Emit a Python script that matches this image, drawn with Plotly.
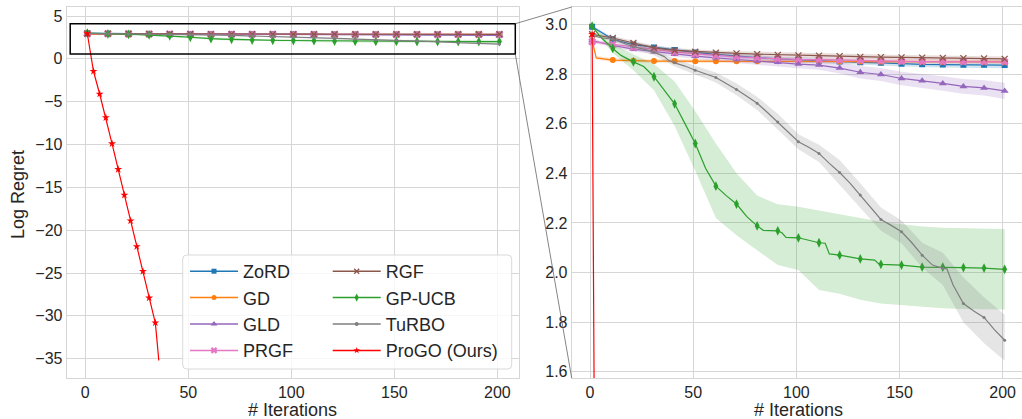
import plotly.graph_objects as go

W, H = 1022, 419

# ---------------- data ----------------
marks = [1, 11, 21, 31, 41, 51, 61, 71, 81, 91, 101, 111, 121, 131, 141, 151, 161, 171, 181, 191, 201]

zord_y = [2.990, 2.940, 2.918, 2.907, 2.897, 2.887, 2.879, 2.871, 2.866, 2.861, 2.857,
          2.853, 2.850, 2.847, 2.845, 2.841, 2.839, 2.838, 2.837, 2.837, 2.836]
zord_sd = [0.006, 0.008, 0.008, 0.008, 0.008, 0.008, 0.008, 0.009, 0.009, 0.009, 0.010,
           0.010, 0.010, 0.011, 0.011, 0.011, 0.012, 0.012, 0.012, 0.012, 0.013]

gd_x = [1, 3, 11, 21, 31, 41, 51, 61, 71, 81, 91, 101, 111, 121, 131, 141, 151, 161, 171, 181, 191, 201]
gd_y = [2.935, 2.865, 2.856, 2.853, 2.852, 2.852, 2.851, 2.851, 2.851, 2.851, 2.851,
        2.851, 2.850, 2.850, 2.850, 2.850, 2.850, 2.850, 2.849, 2.849, 2.849, 2.849]
gd_sd = [0.008, 0.008, 0.007, 0.007, 0.007, 0.007, 0.007, 0.007, 0.007, 0.007, 0.007,
         0.007, 0.007, 0.007, 0.007, 0.007, 0.007, 0.007, 0.007, 0.007, 0.007, 0.007]

gld_y = [2.935, 2.915, 2.900, 2.890, 2.880, 2.872, 2.865, 2.858, 2.852, 2.847, 2.840,
         2.836, 2.824, 2.807, 2.798, 2.782, 2.773, 2.762, 2.750, 2.744, 2.732]
gld_sd = [0.006, 0.008, 0.009, 0.009, 0.010, 0.012, 0.013, 0.014, 0.015, 0.016, 0.017,
          0.019, 0.022, 0.025, 0.026, 0.027, 0.028, 0.029, 0.030, 0.031, 0.033]

prgf_y = [2.930, 2.920, 2.907, 2.898, 2.889, 2.881, 2.874, 2.869, 2.865, 2.861, 2.859,
          2.858, 2.856, 2.854, 2.852, 2.851, 2.850, 2.850, 2.849, 2.849, 2.849]
prgf_sd = [0.006, 0.007, 0.007, 0.007, 0.007, 0.007, 0.007, 0.007, 0.007, 0.007, 0.007,
           0.007, 0.007, 0.007, 0.007, 0.007, 0.007, 0.007, 0.007, 0.007, 0.007]

rgf_y = [2.960, 2.945, 2.925, 2.905, 2.895, 2.890, 2.886, 2.883, 2.880, 2.877, 2.875,
         2.874, 2.872, 2.869, 2.868, 2.867, 2.866, 2.865, 2.864, 2.863, 2.861]
rgf_sd = [0.006, 0.008, 0.009, 0.009, 0.009, 0.009, 0.009, 0.009, 0.010, 0.010, 0.010,
          0.010, 0.010, 0.010, 0.010, 0.010, 0.010, 0.010, 0.010, 0.010, 0.010]

gpucb_x = [1, 5, 11, 15, 21, 26, 31, 36, 41, 46, 51, 56, 61, 66, 71, 76, 81, 84, 91, 93, 95,
           101, 111, 114, 116, 121, 131, 138, 140, 141, 151, 161, 171, 181, 191, 201]
gpucb_y = [2.993, 2.950, 2.903, 2.875, 2.849, 2.830, 2.789, 2.735, 2.680, 2.600, 2.520, 2.420,
           2.348, 2.310, 2.276, 2.225, 2.188, 2.170, 2.168, 2.160, 2.142,
           2.140, 2.120, 2.118, 2.075, 2.070, 2.055, 2.050, 2.035, 2.033, 2.030, 2.022,
           2.022, 2.020, 2.018, 2.013]
gpucb_up = [2.995, 2.920, 2.880, 2.840, 2.770, 2.650, 2.520, 2.400, 2.310, 2.275, 2.265,
            2.250, 2.235, 2.218, 2.205, 2.195, 2.185, 2.180, 2.178, 2.176, 2.175]
gpucb_lo = [2.985, 2.885, 2.815, 2.735, 2.590, 2.410, 2.220, 2.150, 2.090, 2.030, 2.010,
            1.930, 1.915, 1.890, 1.875, 1.870, 1.862, 1.856, 1.853, 1.851, 1.851]

turbo_x = [1, 6, 11, 16, 21, 26, 31, 36, 38, 41, 46, 51, 56, 61, 66, 71, 76, 81, 86, 91, 96,
           101, 106, 111, 116, 121, 126, 131, 136, 141, 146, 151, 156, 161, 166, 171, 173,
           176, 181, 186, 191, 196, 201]
turbo_y = [2.955, 2.945, 2.940, 2.925, 2.910, 2.900, 2.888, 2.870, 2.855, 2.845, 2.832, 2.815,
           2.800, 2.786, 2.762, 2.738, 2.710, 2.682, 2.645, 2.607, 2.565, 2.527, 2.505, 2.480,
           2.440, 2.403, 2.360, 2.312, 2.262, 2.214, 2.190, 2.164, 2.120, 2.070, 2.030, 2.017,
           2.015, 1.950, 1.875, 1.845, 1.819, 1.770, 1.727]
turbo_up = [2.960, 2.948, 2.920, 2.900, 2.860, 2.832, 2.806, 2.762, 2.708, 2.640, 2.557,
            2.515, 2.453, 2.360, 2.262, 2.210, 2.120, 2.080, 1.980, 1.900, 1.830]
turbo_lo = [2.950, 2.932, 2.900, 2.876, 2.830, 2.798, 2.766, 2.714, 2.655, 2.575, 2.497,
            2.445, 2.350, 2.260, 2.168, 2.118, 2.020, 1.950, 1.800, 1.715, 1.645]

progo_x = [1, 4, 7, 10, 13, 16, 19, 22, 25, 28, 31, 34, 34.6, 35.2, 35.7]
progo_y = [2.96, -1.45, -4.1, -6.85, -9.9, -12.9, -15.9, -18.9, -21.9, -24.8, -27.9, -30.8,
           -32.3, -33.7, -35.2]

x_ticks = [0, 50, 100, 150, 200]
left_y_ticks = [5, 0, -5, -10, -15, -20, -25, -30, -35]
right_y_ticks = [1.6, 1.8, 2.0, 2.2, 2.4, 2.6, 2.8, 3.0]

zoom_box_x = [-7.3, 208.7]
zoom_box_y = [0.55, 4.1]

# ---------------- layout geometry (pixels) ----------------
L_X0, L_X1 = 66.7, 519.0
R_X0, R_X1 = 571.7, 1022.0
P_Y0, P_Y1 = 7.0, 378.0          # top, bottom
L_XR = [-9.0, 210.5]
R_XR = [-8.9, 209.4]
L_YR = [-37.25, 6.05]
R_YR = [1.575, 3.07]


def px(xp):
    return xp / W


def py(yp):
    return 1 - yp / H


FONT = "Liberation Sans, Arial, sans-serif"
TXT = "#262626"
GRID = "#d6d6d6"


def band(x, up, lo):
    return list(x) + list(x)[::-1], list(up) + list(lo)[::-1]


def rgba(hexc, a):
    h = hexc.lstrip("#")
    r, g, b = int(h[0:2], 16), int(h[2:4], 16), int(h[4:6], 16)
    return f"rgba({r},{g},{b},{a})"


def pm(y, sd, s):
    return [a + s * b for a, b in zip(y, sd)]


series = [
    dict(name="ZoRD", x=marks, y=zord_y, bx=marks, up=pm(zord_y, zord_sd, 1), lo=pm(zord_y, zord_sd, -1),
         color="#1f77b4", symbol="square", size=6, every=10),
    dict(name="GD", x=gd_x, y=gd_y, bx=gd_x, up=pm(gd_y, gd_sd, 1), lo=pm(gd_y, gd_sd, -1),
         color="#ff7f0e", symbol="circle", size=6, every=10),
    dict(name="GLD", x=marks, y=gld_y, bx=marks, up=pm(gld_y, gld_sd, 1), lo=pm(gld_y, gld_sd, -1),
         color="#9467bd", symbol="triangle-up", size=7, every=10),
    dict(name="PRGF", x=marks, y=prgf_y, bx=marks, up=pm(prgf_y, prgf_sd, 1), lo=pm(prgf_y, prgf_sd, -1),
         color="#e377c2", symbol="x", size=7, every=10),
    dict(name="RGF", x=marks, y=rgf_y, bx=marks, up=pm(rgf_y, rgf_sd, 1), lo=pm(rgf_y, rgf_sd, -1),
         color="#8c564b", symbol="x-thin", size=6, every=10),
    dict(name="GP-UCB", x=gpucb_x, y=gpucb_y, bx=marks, up=gpucb_up, lo=gpucb_lo,
         color="#2ca02c", symbol="diamond-tall", size=7, every=10),
    dict(name="TuRBO", x=turbo_x, y=turbo_y, bx=marks, up=turbo_up, lo=turbo_lo,
         color="#7f7f7f", symbol="circle", size=3, every=10),
    dict(name="ProGO (Ours)", x=progo_x, y=progo_y, bx=None, up=None, lo=None,
         color="#ff0000", symbol="star", size=6, every=3, last=34),
]

fig = go.Figure()

for axes in (("x", "y"), ("x2", "y2")):
    xa, ya = axes
    for s in series:
        if s["bx"] is not None:
            bxs, bys = band(s["bx"], s["up"], s["lo"])
            fig.add_trace(go.Scatter(x=bxs, y=bys, fill="toself", fillcolor=rgba(s["color"], 0.2),
                                     line=dict(width=0), mode="lines", hoverinfo="skip",
                                     showlegend=False, xaxis=xa, yaxis=ya))
        fig.add_trace(go.Scatter(x=s["x"], y=s["y"], mode="lines",
                                 line=dict(color=s["color"], width=1.2),
                                 showlegend=False, xaxis=xa, yaxis=ya))
        lim = s.get("last", 1e9)
        mx = [xv for xv in s["x"] if float(xv).is_integer() and (int(xv) - 1) % s["every"] == 0 and xv <= lim]
        my = [yv for xv, yv in zip(s["x"], s["y"]) if xv in mx]
        mline = dict(color=s["color"], width=1.3) if s["symbol"] == "x-thin" else dict(width=0)
        fig.add_trace(go.Scatter(x=mx, y=my, mode="markers",
                                 marker=dict(color=s["color"], symbol=s["symbol"], size=s["size"], line=mline),
                                 showlegend=False, xaxis=xa, yaxis=ya))

# legend entries (two columns)
for i, s in enumerate(series):
    mline = dict(color=s["color"], width=1.3) if s["symbol"] == "x-thin" else dict(width=0)
    fig.add_trace(go.Scatter(x=[None], y=[None], mode="lines+markers", name=s["name"],
                             line=dict(color=s["color"], width=1.5),
                             marker=dict(color=s["color"], symbol=s["symbol"],
                                         size=max(s["size"] - 1, 4), line=mline),
                             legend="legend" if i < 4 else "legend2", xaxis="x", yaxis="y"))

axis_common = dict(showgrid=True, gridcolor=GRID, gridwidth=1, zeroline=False,
                   showline=True, linecolor=GRID, linewidth=1, ticks="",
                   tickfont=dict(family=FONT, size=16, color=TXT), automargin=False)

fig.update_layout(
    width=W, height=H, margin=dict(l=0, r=0, t=0, b=0),
    paper_bgcolor="white", plot_bgcolor="white",
    font=dict(family=FONT, color=TXT),
    xaxis=dict(domain=[px(L_X0), px(L_X1)], range=L_XR, tickvals=x_ticks, mirror=True, **axis_common),
    yaxis=dict(domain=[py(P_Y1), py(P_Y0)], range=L_YR, tickvals=left_y_ticks, mirror=True, **axis_common),
    xaxis2=dict(domain=[px(R_X0), px(R_X1)], range=R_XR, tickvals=x_ticks, mirror=True, anchor="y2", **axis_common),
    yaxis2=dict(domain=[py(P_Y1), py(P_Y0)], range=R_YR, tickvals=right_y_ticks, tickformat=".1f",
                mirror=False, anchor="x2", **axis_common),
    legend=dict(x=px(185), y=py(253), xanchor="left", yanchor="top", bgcolor="rgba(0,0,0,0)",
                borderwidth=0, font=dict(family=FONT, size=18, color=TXT), itemwidth=48,
                tracegroupgap=0),
    legend2=dict(x=px(327.7), y=py(253), xanchor="left", yanchor="top", bgcolor="rgba(0,0,0,0)",
                 borderwidth=0, font=dict(family=FONT, size=18, color=TXT), itemwidth=48,
                 tracegroupgap=0),
)

# legend frame (rounded)
fx0, fx1, fy0, fy1 = 182.7, 511.7, 255.0, 369.0
r = 4
path = (f"M {px(fx0 + r)},{py(fy0)} L {px(fx1 - r)},{py(fy0)} Q {px(fx1)},{py(fy0)} {px(fx1)},{py(fy0 + r)} "
        f"L {px(fx1)},{py(fy1 - r)} Q {px(fx1)},{py(fy1)} {px(fx1 - r)},{py(fy1)} "
        f"L {px(fx0 + r)},{py(fy1)} Q {px(fx0)},{py(fy1)} {px(fx0)},{py(fy1 - r)} "
        f"L {px(fx0)},{py(fy0 + r)} Q {px(fx0)},{py(fy0)} {px(fx0 + r)},{py(fy0)} Z")
fig.add_shape(type="path", path=path, xref="paper", yref="paper",
              fillcolor="rgba(255,255,255,0.8)", line=dict(color="#d9d9d9", width=1), layer="above")

# zoom indicator rectangle on the left panel
fig.add_shape(type="rect", xref="x", yref="y", x0=zoom_box_x[0], x1=zoom_box_x[1],
              y0=zoom_box_y[0], y1=zoom_box_y[1], line=dict(color="black", width=1.5), layer="above")


def lx_to_px(v):
    return L_X0 + (v - L_XR[0]) / (L_XR[1] - L_XR[0]) * (L_X1 - L_X0)


def ly_to_px(v):
    return P_Y1 - (v - L_YR[0]) / (L_YR[1] - L_YR[0]) * (P_Y1 - P_Y0)


bx_r = lx_to_px(zoom_box_x[1])
fig.add_shape(type="line", xref="paper", yref="paper", x0=px(bx_r), y0=py(ly_to_px(zoom_box_y[1])),
              x1=px(R_X0), y1=py(P_Y0), line=dict(color="#666666", width=0.8))
fig.add_shape(type="line", xref="paper", yref="paper", x0=px(bx_r), y0=py(ly_to_px(zoom_box_y[0])),
              x1=px(R_X0), y1=py(P_Y1), line=dict(color="#666666", width=0.8))

# axis titles
fig.add_annotation(text="Log Regret", x=px(18), y=py(195), xref="paper", yref="paper",
                   xanchor="center", yanchor="middle",
                   showarrow=False, textangle=-90, font=dict(family=FONT, size=18, color=TXT))
fig.add_annotation(text="# Iterations", x=px((L_X0 + L_X1) / 2), y=py(410), xref="paper", yref="paper",
                   xanchor="center", yanchor="middle",
                   showarrow=False, font=dict(family=FONT, size=18, color=TXT))
fig.add_annotation(text="# Iterations", x=px(798), y=py(410), xref="paper", yref="paper",
                   xanchor="center", yanchor="middle",
                   showarrow=False, font=dict(family=FONT, size=18, color=TXT))

fig.write_html("out.html", config={"displayModeBar": False},
               post_script="document.body.style.margin='0px';document.body.style.overflow='hidden';")
